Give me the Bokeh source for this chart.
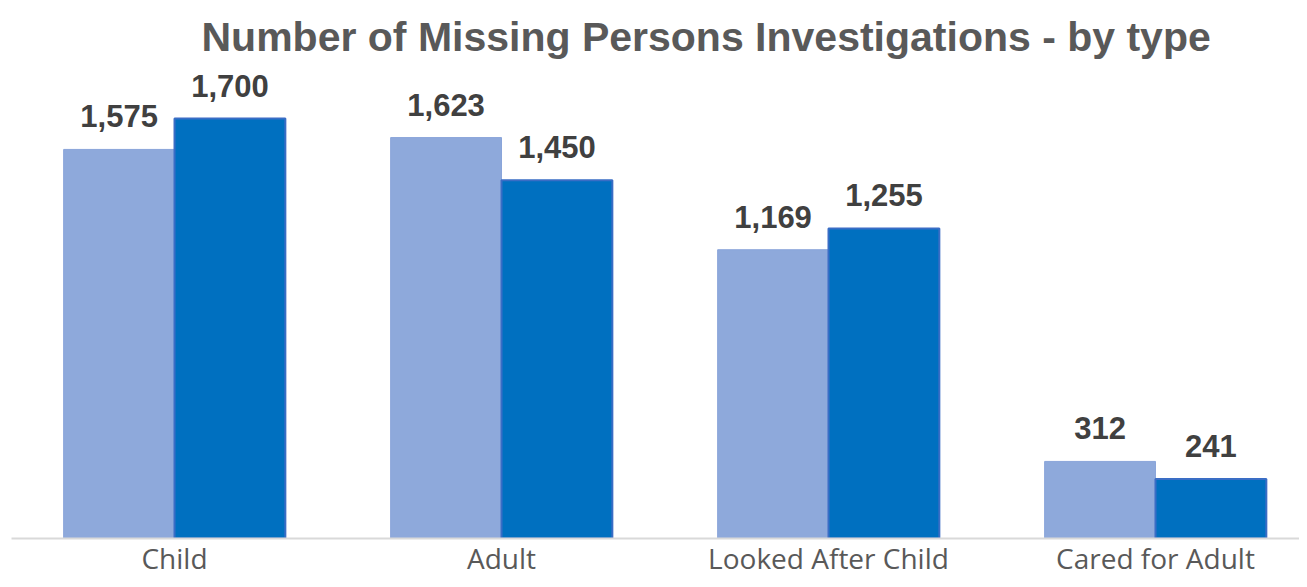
from bokeh.plotting import figure
from bokeh.models import ColumnDataSource, FixedTicker, Range1d, Title
from bokeh.core.properties import value
from bokeh.transform import dodge
from bokeh.embed import file_html
from bokeh.resources import INLINE

categories = ["Child", "Adult", "Looked After Child", "Cared for Adult"]
series_prev = [1575, 1623, 1169, 312]
series_curr = [1700, 1450, 1255, 241]

xs = list(range(len(categories)))
src = ColumnDataSource(dict(
    x=xs,
    prev=series_prev,
    curr=series_curr,
    prev_lbl=[f"{v:,}" for v in series_prev],
    curr_lbl=[f"{v:,}" for v in series_curr],
))

p = figure(width=1299, height=579, output_backend="svg", toolbar_location=None,
           x_range=Range1d(-0.4985, 3.4404), y_range=Range1d(0, 1935),
           min_border_left=11, min_border_right=0, min_border_top=60, min_border_bottom=0)
p.title = None
t = Title(text="Number of Missing Persons Investigations - by type", align="left",
          text_font="Liberation Sans", text_font_size="41px", text_font_style="bold",
          text_color="#595959", offset=190, standoff=2)
p.add_layout(t, "above")

bw = 0.339
p.vbar(x=dodge("x", -bw / 2, range=p.x_range), top="prev", width=bw, source=src,
       fill_color="#8EA9DB", line_color="#8AA5DA", line_width=1)
p.vbar(x=dodge("x", bw / 2, range=p.x_range), top="curr", width=bw, source=src,
       fill_color="#0070C0", line_color="#3A6DC5", line_width=2)

common = dict(text_font=value("Liberation Sans"), text_font_size="31px", text_font_style="bold",
              text_color="#404040", text_align="center", text_baseline="alphabetic", y_offset=-33,
              source=src)
p.text(x=dodge("x", -bw / 2, range=p.x_range), y="prev", text="prev_lbl", **common)
p.text(x=dodge("x", bw / 2, range=p.x_range), y="curr", text="curr_lbl", **common)

p.yaxis.visible = False
p.xgrid.visible = False
p.ygrid.visible = False
p.outline_line_color = None
p.xaxis.ticker = FixedTicker(ticks=xs)
p.xaxis.major_label_overrides = {i: c for i, c in enumerate(categories)}
p.xaxis.major_tick_line_color = None
p.xaxis.minor_tick_line_color = None
p.xaxis.major_tick_out = 0
p.xaxis.major_tick_in = 0
p.xaxis.minor_tick_out = 0
p.xaxis.minor_tick_in = 0
p.xaxis.axis_line_color = "#D9D9D9"
p.xaxis.axis_line_width = 2
p.xaxis.major_label_text_font = "Open Sans"
p.xaxis.major_label_text_font_size = "28px"
p.xaxis.major_label_text_color = "#595959"
p.xaxis.major_label_text_baseline = "middle"
p.xaxis.major_label_standoff = 0

open("out.html", "w").write(file_html(p, INLINE))
